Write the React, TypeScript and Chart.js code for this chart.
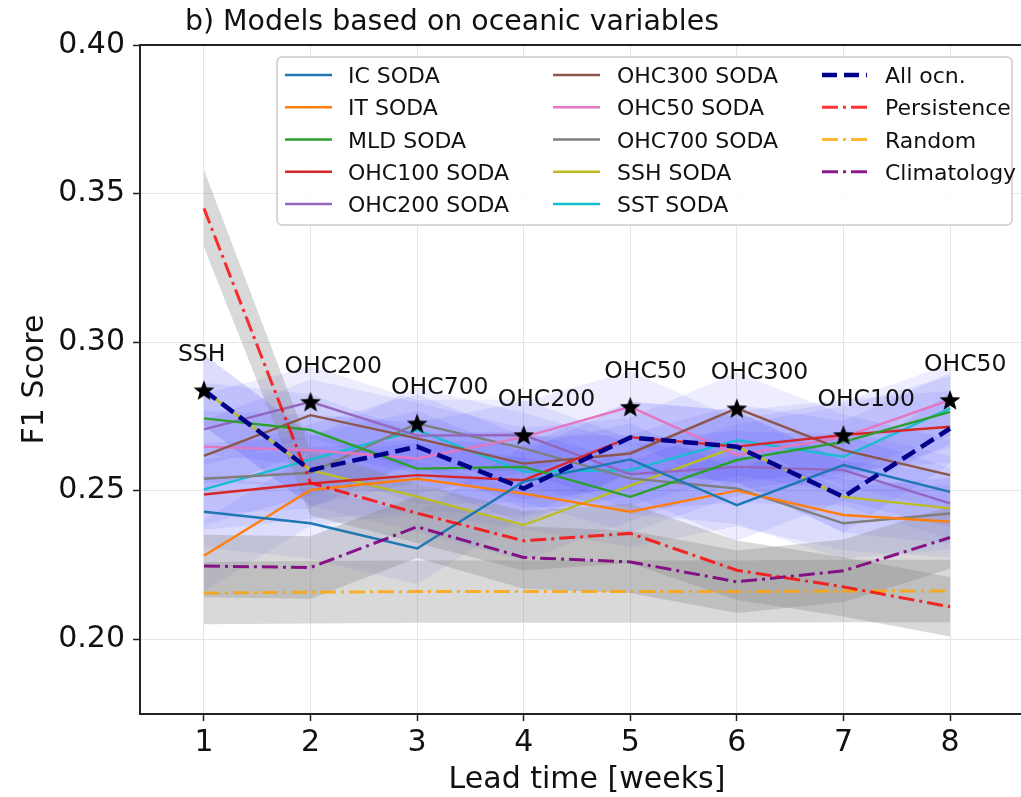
import React, { useEffect, useRef } from "react";
import { Chart, registerables } from "chart.js";

Chart.register(...registerables);

// ---------------- data ----------------
const weeks = [1, 2, 3, 4, 5, 6, 7, 8];
const xTicks = [1, 2, 3, 4, 5, 6, 7, 8];
const yTicks = [0.2, 0.25, 0.3, 0.35, 0.4];

const modelNames = [
  "IC SODA", "IT SODA", "MLD SODA", "OHC100 SODA", "OHC200 SODA",
  "OHC300 SODA", "OHC50 SODA", "OHC700 SODA", "SSH SODA", "SST SODA",
];
const modelColors = [
  "#1f77b4", "#ff7f0e", "#2ca02c", "#d62728", "#9467bd",
  "#8c564b", "#e377c2", "#7f7f7f", "#bcbd22", "#17becf",
];

const icSoda = [0.2429, 0.239, 0.2305, 0.253, 0.2605, 0.2451, 0.2586, 0.2496];
const itSoda = [0.2281, 0.2502, 0.254, 0.249, 0.2429, 0.25, 0.2418, 0.2395];
const mldSoda = [0.2743, 0.2704, 0.2574, 0.258, 0.2479, 0.2603, 0.2664, 0.2765];
const ohc100Soda = [0.2487, 0.2524, 0.2552, 0.2535, 0.268, 0.2648, 0.2687, 0.2715];
const ohc200Soda = [0.2706, 0.2799, 0.2685, 0.2687, 0.2555, 0.258, 0.2569, 0.2457];
const ohc300Soda = [0.2617, 0.2754, 0.2676, 0.2591, 0.2625, 0.2777, 0.2636, 0.2552];
const ohc50Soda = [0.2648, 0.2636, 0.2608, 0.268, 0.2782, 0.262, 0.268, 0.2805];
const ohc700Soda = [0.254, 0.256, 0.2726, 0.2642, 0.2541, 0.2507, 0.239, 0.2423];
const sshSoda = [0.2838, 0.2569, 0.248, 0.2384, 0.2517, 0.2648, 0.2479, 0.244];
const sstSoda = [0.2504, 0.2604, 0.2704, 0.2563, 0.2569, 0.267, 0.2614, 0.2777];

const allOcn = [0.2838, 0.2569, 0.2648, 0.2507, 0.2679, 0.2648, 0.2479, 0.2709];
const persistence = [0.345, 0.2526, 0.2424, 0.2331, 0.2356, 0.2232, 0.2176, 0.2109];
const randomScore = [0.2155, 0.2158, 0.216, 0.216, 0.216, 0.216, 0.2162, 0.2162];
const climatology = [0.2246, 0.2241, 0.2378, 0.2275, 0.226, 0.2193, 0.223, 0.2342];

// half-widths of shaded spread bands
const modelSpread = [0.012, 0.012, 0.012, 0.012, 0.012, 0.012, 0.012, 0.012];
const persistenceSpread = [0.013, 0.011, 0.01, 0.01, 0.01, 0.01, 0.01, 0.01];
const randomSpread = [0.0105, 0.0105, 0.0105, 0.0105, 0.0105, 0.0105, 0.0105, 0.0105];
const climatologySpread = [0.0105, 0.0105, 0.0105, 0.0105, 0.0105, 0.0105, 0.0105, 0.0105];

const modelValues = [
  icSoda, itSoda, mldSoda, ohc100Soda, ohc200Soda,
  ohc300Soda, ohc50Soda, ohc700Soda, sshSoda, sstSoda,
];

const FONT = "'DejaVu Sans', sans-serif";

const pts = (vals: number[]) => weeks.map((w, i) => ({ x: w, y: vals[i] }));

function makeStar(r: number) {
  const c = document.createElement("canvas");
  const s = Math.ceil(2 * r + 4);
  c.width = s;
  c.height = s;
  const ctx = c.getContext("2d")!;
  const cx = s / 2;
  const cy = s / 2 + r * 0.08;
  ctx.beginPath();
  for (let k = 0; k < 10; k++) {
    const rr = k % 2 === 0 ? r : r * 0.42;
    const a = -Math.PI / 2 + (k * Math.PI) / 5;
    const px = cx + rr * Math.cos(a);
    const py = cy + rr * Math.sin(a);
    if (k === 0) ctx.moveTo(px, py);
    else ctx.lineTo(px, py);
  }
  ctx.closePath();
  ctx.fillStyle = "#000";
  ctx.fill();
  return c;
}

export default function App() {
  const ref = useRef<HTMLCanvasElement | null>(null);

  useEffect(() => {
    if (!ref.current) return;

    // best model per week
    const bestIdx = weeks.map((_, i) => {
      let b = 0;
      modelValues.forEach((vals, m) => {
        if (vals[i] > modelValues[b][i]) b = m;
      });
      return b;
    });
    const bestVals = bestIdx.map((m, i) => modelValues[m][i]);
    const bestLabels = bestIdx.map((m) => modelNames[m].replace(" SODA", ""));

    const datasets: any[] = [];

    // blue spread bands of models
    [...modelValues, allOcn].forEach((vals) => {
      datasets.push({
        data: pts(vals.map((v, i) => v - modelSpread[i])),
        borderWidth: 0, pointRadius: 0, fill: false, order: 30,
      });
      datasets.push({
        data: pts(vals.map((v, i) => v + modelSpread[i])),
        borderWidth: 0, pointRadius: 0, fill: "-1", order: 30,
        backgroundColor: "rgba(50,50,245,0.085)",
      });
    });

    // gray bands of baselines
    [
      [persistence, persistenceSpread],
      [randomScore, randomSpread],
      [climatology, climatologySpread],
    ].forEach(([vals, sp]) => {
      datasets.push({
        data: pts(vals.map((v, i) => v - sp[i])),
        borderWidth: 0, pointRadius: 0, fill: false, order: 25,
      });
      datasets.push({
        data: pts(vals.map((v, i) => v + sp[i])),
        borderWidth: 0, pointRadius: 0, fill: "-1", order: 25,
        backgroundColor: "rgba(128,128,128,0.3)",
      });
    });

    modelValues.forEach((vals, m) => {
      datasets.push({
        label: modelNames[m],
        data: pts(vals),
        borderColor: modelColors[m],
        borderWidth: 2.4,
        pointRadius: 0,
        fill: false,
        order: 10,
      });
    });

    datasets.push({
      label: "Persistence", data: pts(persistence),
      borderColor: "rgba(255,0,0,0.8)", borderWidth: 3, borderDash: [16, 5, 3, 5],
      pointRadius: 0, fill: false, order: 8,
    });
    datasets.push({
      label: "Random", data: pts(randomScore),
      borderColor: "rgba(255,165,0,0.8)", borderWidth: 3, borderDash: [16, 5, 3, 5],
      pointRadius: 0, fill: false, order: 8,
    });
    datasets.push({
      label: "Climatology", data: pts(climatology),
      borderColor: "rgba(128,0,128,0.9)", borderWidth: 3, borderDash: [16, 5, 3, 5],
      pointRadius: 0, fill: false, order: 8,
    });
    datasets.push({
      label: "All ocn.", data: pts(allOcn),
      borderColor: "#00008b", borderWidth: 4.5, borderDash: [15, 7],
      pointRadius: 0, fill: false, order: 5,
    });
    const starIndex = datasets.length;
    datasets.push({
      label: "best", data: pts(bestVals),
      showLine: false, pointStyle: makeStar(11), pointRadius: 11,
      order: 1,
    });

    const legendCols = [
      modelNames.slice(0, 5).map((n, k) => ({ label: n, color: modelColors[k], dash: [] as number[], width: 2.5 })),
      modelNames.slice(5, 10).map((n, k) => ({ label: n, color: modelColors[k + 5], dash: [] as number[], width: 2.5 })),
      [
        { label: "All ocn.", color: "#00008b", dash: [15, 7], width: 4.5 },
        { label: "Persistence", color: "rgba(255,0,0,0.8)", dash: [16, 5, 3, 5], width: 3 },
        { label: "Random", color: "rgba(255,165,0,0.8)", dash: [16, 5, 3, 5], width: 3 },
        { label: "Climatology", color: "rgba(128,0,128,0.9)", dash: [16, 5, 3, 5], width: 3 },
      ],
    ];

    const overlay = {
      id: "overlay",
      afterDatasetsDraw(chart: any) {
        const ctx = chart.ctx;
        const meta = chart.getDatasetMeta(starIndex);
        ctx.save();
        ctx.font = `23.5px ${FONT}`;
        ctx.fillStyle = "#111";
        ctx.textAlign = "left";
        ctx.textBaseline = "alphabetic";
        meta.data.forEach((p: any, i: number) => {
          ctx.fillText(bestLabels[i], p.x - 26, p.y - 29);
        });
        ctx.restore();
      },
      afterDraw(chart: any) {
        const ctx = chart.ctx;
        const a = chart.chartArea;
        ctx.save();
        // top spine
        ctx.strokeStyle = "#222";
        ctx.lineWidth = 2;
        ctx.beginPath();
        ctx.moveTo(a.left, a.top);
        ctx.lineTo(chart.width, a.top);
        ctx.stroke();

        // title
        ctx.fillStyle = "#111";
        ctx.font = `28.4px ${FONT}`;
        ctx.textAlign = "left";
        ctx.textBaseline = "alphabetic";
        ctx.fillText("b) Models based on oceanic variables", 185, 30);

        // axis titles
        ctx.font = `30px ${FONT}`;
        ctx.textAlign = "center";
        ctx.fillText("Lead time [weeks]", 587, 788);
        ctx.save();
        ctx.translate(43, (a.top + a.bottom) / 2);
        ctx.rotate(-Math.PI / 2);
        ctx.fillText("F1 Score", 0, 0);
        ctx.restore();

        // legend
        const bx = 277, by = 57, bw = 735, bh = 168;
        ctx.beginPath();
        ctx.roundRect(bx, by, bw, bh, 5);
        ctx.fillStyle = "rgba(255,255,255,0.85)";
        ctx.fill();
        ctx.strokeStyle = "#cccccc";
        ctx.lineWidth = 1.5;
        ctx.stroke();

        const colX = [[285, 332, 348], [553, 600, 617], [822, 867, 885]];
        const rowY = [75, 107.3, 139.5, 171.8, 204];
        legendCols.forEach((col, c) => {
          col.forEach((e, r) => {
            const y = rowY[r];
            ctx.save();
            ctx.strokeStyle = e.color;
            ctx.lineWidth = e.width;
            ctx.setLineDash(e.dash);
            ctx.beginPath();
            ctx.moveTo(colX[c][0], y);
            ctx.lineTo(colX[c][1], y);
            ctx.stroke();
            ctx.restore();
            ctx.fillStyle = "#111";
            ctx.font = `22px ${FONT}`;
            ctx.textAlign = "left";
            ctx.textBaseline = "alphabetic";
            ctx.fillText(e.label, colX[c][2], y + 8);
          });
        });
        ctx.restore();
      },
    };

    const chart = new Chart(ref.current, {
      type: "line",
      data: { datasets },
      options: {
        animation: false,
        responsive: false,
        devicePixelRatio: 1,
        layout: { autoPadding: false, padding: { top: 45, left: 0, right: 0, bottom: 0 } },
        plugins: {
          legend: { display: false },
          tooltip: { enabled: false },
          title: { display: false },
        },
        elements: { line: { tension: 0 } },
        scales: {
          x: {
            type: "linear",
            min: 0.4,
            max: 8.666,
            afterBuildTicks: (s: any) => {
              s.ticks = xTicks.map((v) => ({ value: v }));
            },
            afterFit: (s: any) => {
              s.height = 83;
              s.paddingLeft = 0;
              s.paddingRight = 0;
            },
            grid: {
              color: "#e6e6e6",
              lineWidth: 1,
              tickColor: "#222",
              tickLength: 7,
              tickWidth: 1.5,
            },
            border: { color: "#222", width: 2 },
            ticks: {
              font: { family: FONT, size: 30 },
              color: "#111",
              padding: 4,
              maxRotation: 0,
              autoSkip: false,
              callback: (v: any) => String(v),
            },
          },
          y: {
            type: "linear",
            min: 0.1748,
            max: 0.4,
            afterBuildTicks: (s: any) => {
              s.ticks = yTicks.map((v) => ({ value: v }));
            },
            afterFit: (s: any) => {
              s.width = 140;
            },
            grid: {
              color: "#e6e6e6",
              lineWidth: 1,
              tickColor: "#222",
              tickLength: 7,
              tickWidth: 1.5,
            },
            border: { color: "#222", width: 2 },
            ticks: {
              font: { family: FONT, size: 30 },
              color: "#111",
              padding: 8,
              autoSkip: false,
              callback: (v: any) => Number(v).toFixed(2),
            },
          },
        },
      },
      plugins: [overlay],
    } as any);

    return () => chart.destroy();
  }, []);

  return (
    <div style={{ position: "fixed", left: 0, top: 0, width: 1021, height: 797, background: "#fff" }}>
      <canvas ref={ref} width={1021} height={797} style={{ display: "block" }} />
    </div>
  );
}
